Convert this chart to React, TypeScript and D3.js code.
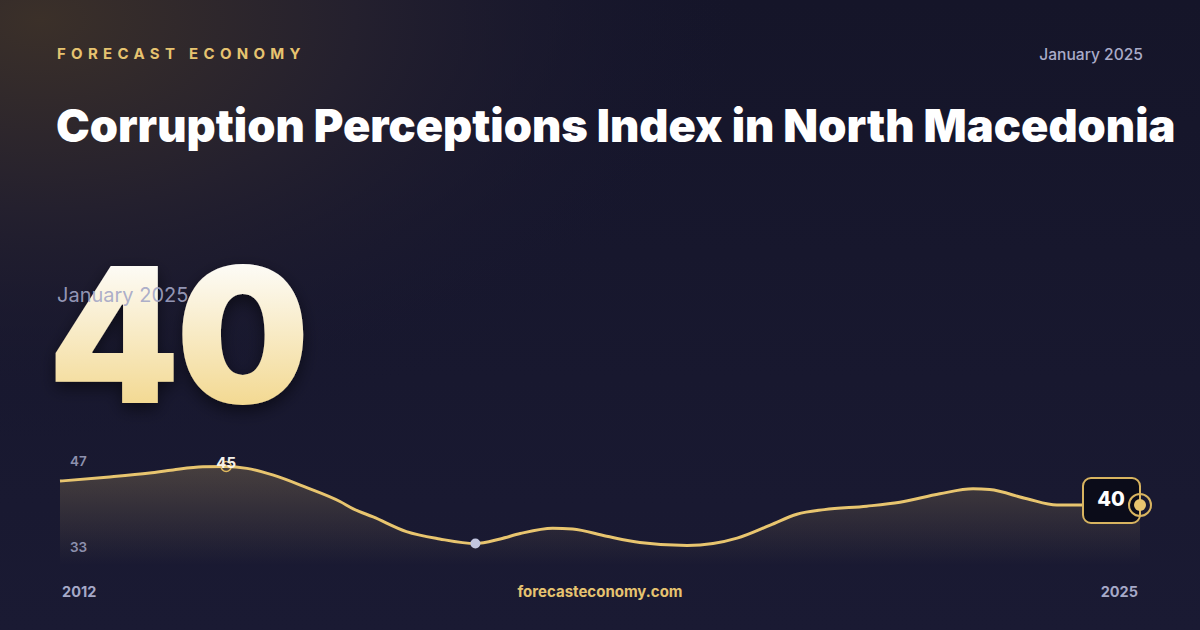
import React from "react";
import * as d3 from "d3";

const years: number[] = [2012.0, 2012.56, 2013.08, 2013.36, 2013.72, 2014.0, 2014.25, 2014.56, 2014.97, 2015.37, 2015.53, 2015.77, 2016.17, 2016.57, 2017.0, 2017.3, 2017.54, 2017.93, 2018.17, 2018.58, 2018.98, 2019.55, 2019.86, 2020.15, 2020.55, 2020.87, 2021.2, 2021.71, 2022.11, 2022.59, 2022.99, 2023.19, 2023.64, 2024.0, 2024.28, 2025.0];
const values: number[] = [43.1, 43.6, 44.15, 44.55, 44.95, 45.0, 44.75, 43.9, 42.25, 40.45, 39.5, 38.45, 36.55, 35.6, 35.0, 35.6, 36.3, 37.0, 36.9, 35.95, 35.15, 34.75, 35.0, 35.7, 37.4, 38.8, 39.4, 39.85, 40.35, 41.45, 42.1, 42.0, 40.8, 40.0, 40.0, 40.0];
const yTicks: number[] = [47, 33];
const xLabels: string[] = ["2012", "2025"];
const maxLabel = "45";
const currentValue = "40";
const title = "Corruption Perceptions Index in North Macedonia";
const brand = "FORECAST ECONOMY";
const dateLabel = "January 2025";
const site = "forecasteconomy.com";

export default function App() {
  const W = 1200, H = 630;
  const x = d3.scaleLinear().domain([2012, 2025]).range([60, 1140]);
  const y = d3.scaleLinear().domain([33, 47]).range([559, 451]);
  const bottom = 565;
  const pts = years.map((t, i) => [t, values[i]] as [number, number]);
  const line = d3.line<[number, number]>().x(d => x(d[0])).y(d => y(d[1])).curve(d3.curveMonotoneX);
  const area = d3.area<[number, number]>().x(d => x(d[0])).y0(bottom).y1(d => y(d[1])).curve(d3.curveMonotoneX);
  const maxI = d3.maxIndex(values);
  const minI = d3.minIndex(values.slice(0, 15));
  const last = pts[pts.length - 1];
  const font = "Inter, 'Noto Sans', sans-serif";
  const tickY = [465.5, 551.5];
  return (
    <svg width={W} height={H} viewBox={`0 0 ${W} ${H}`} style={{ display: "block", position: "absolute", left: 0, top: 0 }}>
      <defs>
        <radialGradient id="glow" cx="0" cy="0" r="1" gradientUnits="userSpaceOnUse" gradientTransform="translate(40,20) scale(700,420)">
          <stop offset="0" stopColor="#3b3029" />
          <stop offset="0.45" stopColor="#24202e" />
          <stop offset="1" stopColor="#161630" stopOpacity="0" />
        </radialGradient>
        <linearGradient id="bg" x1="0" y1="0" x2="0" y2="1">
          <stop offset="0" stopColor="#151529" />
          <stop offset="1" stopColor="#1a1a33" />
        </linearGradient>
        <linearGradient id="areaG" x1="0" y1="451" x2="0" y2={bottom} gradientUnits="userSpaceOnUse">
          <stop offset="0" stopColor="#e8c46f" stopOpacity="0.26" />
          <stop offset="1" stopColor="#e8c46f" stopOpacity="0.0" />
        </linearGradient>
        <linearGradient id="numG" x1="0" y1="262" x2="0" y2="405" gradientUnits="userSpaceOnUse">
          <stop offset="0" stopColor="#fdfcf8" />
          <stop offset="1" stopColor="#f3d992" />
        </linearGradient>
        <filter id="shadow" x="-20%" y="-20%" width="140%" height="140%">
          <feDropShadow dx="0" dy="6" stdDeviation="8" floodColor="#000" floodOpacity="0.5" />
        </filter>
      </defs>
      <rect width={W} height={H} fill="url(#bg)" />
      <rect width={W} height={H} fill="url(#glow)" />

      <text x={57} y={59} fill="#e6c370" fontFamily={font} fontWeight={700} fontSize={15} letterSpacing={5.3}>{brand}</text>
      <text x={1143} y={60} textAnchor="end" fill="#a9abc8" fontFamily={font} fontWeight={500} fontSize={15.6}>{dateLabel}</text>
      <text x={56} y={142} fill="#ffffff" fontFamily={font} fontWeight={900} fontSize={45.2}>{title}</text>

      <text x={48} y={403} fill="url(#numG)" fontFamily={font} fontWeight={900} fontSize={188} letterSpacing={-4} filter="url(#shadow)">{currentValue}</text>
      <text x={57} y={302} fill="#a3a6c6" fillOpacity={0.9} fontFamily={font} fontWeight={400} fontSize={20}>{dateLabel}</text>

      <path d={area(pts) || ""} fill="url(#areaG)" />
      <path d={line(pts) || ""} fill="none" stroke="#e8c56f" strokeWidth={3} strokeLinejoin="round" />

      {yTicks.map((t, i) => (
        <text key={t} x={70} y={tickY[i]} fill="#8e91ae" fontFamily={font} fontWeight={600} fontSize={13.5}>{t}</text>
      ))}

      <circle cx={x(pts[maxI][0])} cy={y(pts[maxI][1])} r={5} fill="none" stroke="#e0b95e" strokeWidth={1.5} />
      <text x={x(pts[maxI][0])} y={y(pts[maxI][1]) + 2} textAnchor="middle" fill="#f4f1ea" fontFamily={font} fontWeight={700} fontSize={15}>{maxLabel}</text>

      <circle cx={x(pts[minI][0])} cy={y(pts[minI][1])} r={5} fill="#c2c6df" />

      <rect x={x(last[0]) - 57} y={y(last[1]) - 27} width={57} height={45} rx={8} fill="#0b0c19" stroke="#d8b460" strokeWidth={2} />
      <text x={x(last[0]) - 29} y={y(last[1]) + 1} textAnchor="middle" fill="#ffffff" fontFamily={font} fontWeight={800} fontSize={20}>{currentValue}</text>
      <circle cx={x(last[0])} cy={y(last[1])} r={11} fill="none" stroke="#d8b460" strokeWidth={2} />
      <circle cx={x(last[0])} cy={y(last[1])} r={6} fill="#e8c56f" />

      <text x={62} y={597} fill="#a6a9c8" fontFamily={font} fontWeight={700} fontSize={14.5}>{xLabels[0]}</text>
      <text x={1138} y={597} textAnchor="end" fill="#a6a9c8" fontFamily={font} fontWeight={700} fontSize={14.5}>{xLabels[1]}</text>
      <text x={600} y={597} textAnchor="middle" fill="#e6c370" fontFamily={font} fontWeight={700} fontSize={15}>{site}</text>
    </svg>
  );
}
